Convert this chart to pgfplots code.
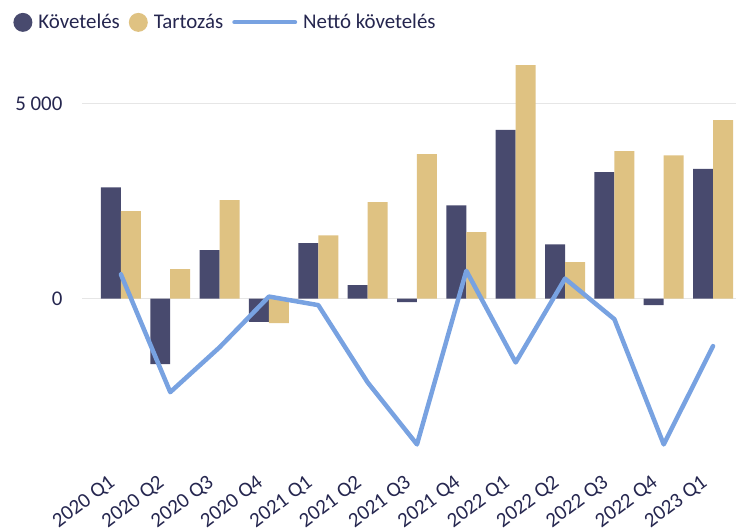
\documentclass[border=0pt]{standalone}
\usepackage{pgfplots}
\pgfplotsset{compat=1.18}
\usepackage{fontspec}
\setmainfont{Carlito}
\definecolor{kov}{HTML}{484A6E}
\definecolor{tart}{HTML}{DFC282}
\definecolor{netto}{HTML}{78A2E1}
\definecolor{txt}{HTML}{25264F}
\definecolor{grd}{HTML}{E6E6E6}
\begin{document}
\begin{tikzpicture}
\begin{axis}[
  scale only axis,
  width=655bp, height=410bp,
  xmin=-0.79, xmax=12.47,
  ymin=-4000, ymax=6500,
  axis line style={draw=none},
  ybar=0pt, bar width=20bp,
  xtick={0,...,12},
  xticklabels={2020 Q1,2020 Q2,2020 Q3,2020 Q4,2021 Q1,2021 Q2,2021 Q3,2021 Q4,2022 Q1,2022 Q2,2022 Q3,2022 Q4,2023 Q1},
  ytick={0,5000},
  yticklabels={0,{5 000}},
  major tick length=0pt,
  ymajorgrids, xmajorgrids=false,
  grid style={grd, line width=1.5bp},
  /pgf/number format/assume math mode=true,
  tick label style={font=\fontsize{21}{24}\selectfont, text=txt},
  yticklabel style={anchor=east, xshift=-16bp},
  xticklabel style={xshift=-13bp, yshift=-18bp, rotate=37, anchor=north east, inner sep=1bp},
  legend columns=3,
  legend style={draw=none, fill=none, at={(axis description cs:-0.105,1.08)}, anchor=north west,
    font=\fontsize{21}{24}\selectfont, text=txt, inner sep=0pt,
    /tikz/every odd column/.append style={column sep=4bp},
    /tikz/every even column/.append style={column sep=7bp}},
  clip=false,
]
\addplot[fill=kov, draw=none, legend image code/.code={\fill[kov] (9.5bp,0) circle (9.5bp);}] coordinates {
(0,2850) (1,-1680) (2,1240) (3,-600) (4,1420) (5,340) (6,-90) (7,2390) (8,4320) (9,1390) (10,3240) (11,-170) (12,3320)};
\addlegendentry{Követelés}
\addplot[fill=tart, draw=none, legend image code/.code={\fill[tart] (9.5bp,0) circle (9.5bp);}] coordinates {
(0,2240) (1,750) (2,2520) (3,-630) (4,1620) (5,2470) (6,3700) (7,1700) (8,5980) (9,930) (10,3780) (11,3670) (12,4570)};
\addlegendentry{Tartozás}
\addplot[sharp plot, netto, line width=4.5bp, line join=round, line cap=round, mark=none,
  legend image code/.code={\draw[netto, line width=4bp] (0,0) -- (61bp,0);}] coordinates {
(0,620) (1,-2400) (2,-1250) (3,50) (4,-170) (5,-2150) (6,-3740) (7,710) (8,-1640) (9,510) (10,-530) (11,-3740) (12,-1220)};
\addlegendentry{Nettó követelés}
\end{axis}
\path (current axis.south west) ++(-82bp,-65bp) rectangle ++(737bp,520bp);
\end{tikzpicture}
\end{document}
